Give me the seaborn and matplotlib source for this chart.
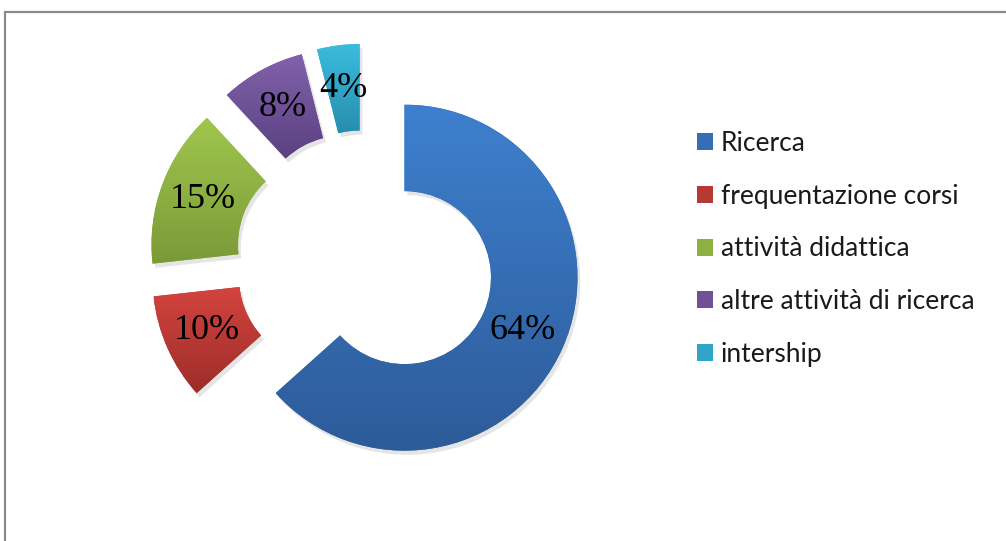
import numpy as np
import matplotlib
matplotlib.use("Agg")
import matplotlib.pyplot as plt
import seaborn as sns
from matplotlib.patches import Patch, Rectangle
from matplotlib import patheffects
from matplotlib.colors import to_rgb

# Time split of the activities
categories = ["Ricerca", "frequentazione corsi", "attività didattica",
              "altre attività di ricerca", "intership"]
shares = [64, 10, 15, 8, 4]

# Vertical gradient of every ring segment: light on top, darker below
top_colors = ["#3E80CE", "#D4443F", "#A0C64E", "#8262AC", "#3BBCDF"]
bottom_colors = ["#2D5B99", "#9C2D29", "#7A9A38", "#5A4080", "#278EAE"]

sns.set_theme(style="white")
plt.rcParams["font.family"] = ["Lato", "DejaVu Sans"]

W, H, DPI = 1006, 541, 100
fig = plt.figure(figsize=(W / DPI, H / DPI), dpi=DPI)
fig.patch.set_facecolor("white")
ax = fig.add_axes([0, 0, 1, 1])

total = sum(shares)
mid_colors = [tuple((np.array(to_rgb(t)) + np.array(to_rgb(b))) / 2)
              for t, b in zip(top_colors, bottom_colors)]

wedges, texts, autotexts = ax.pie(
    shares,
    startangle=90,
    counterclock=False,
    explode=[0.25] * len(shares),
    radius=1.0,
    colors=mid_colors,
    wedgeprops=dict(width=0.5, linewidth=0),
    autopct=lambda p: f"{round(p * total / 100):d}%",
    pctdistance=0.75,
    textprops=dict(family=["Liberation Serif", "DejaVu Serif"],
                   fontsize=26, color="black"),
)

# Data window: ring centre at (365, 260) px, 173 px per unit radius
scale = 173.0
cx, cy = 365.0, H - 260.0
xlim = (-cx / scale, (W - cx) / scale)
ylim = (-cy / scale, (H - cy) / scale)

for w, tc, bc in zip(wedges, top_colors, bottom_colors):
    w.set_path_effects([
        patheffects.SimplePatchShadow(offset=(2, -3), shadow_rgbFace=(0.55, 0.55, 0.55), alpha=0.22),
        patheffects.Normal(),
    ])
    ext = w.get_path().get_extents()
    n = 256
    t = np.linspace(0, 1, n)[:, None, None]
    grad = np.array(to_rgb(bc))[None, None, :] * (1 - t) + np.array(to_rgb(tc))[None, None, :] * t
    img = ax.imshow(grad, extent=[ext.x0, ext.x1, ext.y0, ext.y1], origin="lower",
                    aspect="auto", interpolation="bilinear", zorder=w.get_zorder() + 0.1)
    img.set_clip_path(w)

for at in autotexts:
    at.set_zorder(5)

ax.set_aspect("auto")
ax.set_xlim(*xlim)
ax.set_ylim(*ylim)
ax.axis("off")

handles = [Patch(facecolor=c, edgecolor="none") for c in mid_colors]
fig.legend(handles, categories, loc="upper left",
           bbox_to_anchor=(697 / W, 1 - 131 / H), bbox_transform=fig.transFigure,
           frameon=False, fontsize=19, handlelength=0.62, handleheight=0.62,
           handletextpad=0.28, labelspacing=1.05, borderpad=0, borderaxespad=0,
           labelcolor="#1a1a1a")

# Chart frame
fig.add_artist(Rectangle((5 / W, -0.1), 1.2, (H - 12) / H + 0.1, transform=fig.transFigure,
                         fill=False, edgecolor="#8a8a8a", linewidth=1.6))

fig.savefig("out.png", dpi=DPI, facecolor="white")
